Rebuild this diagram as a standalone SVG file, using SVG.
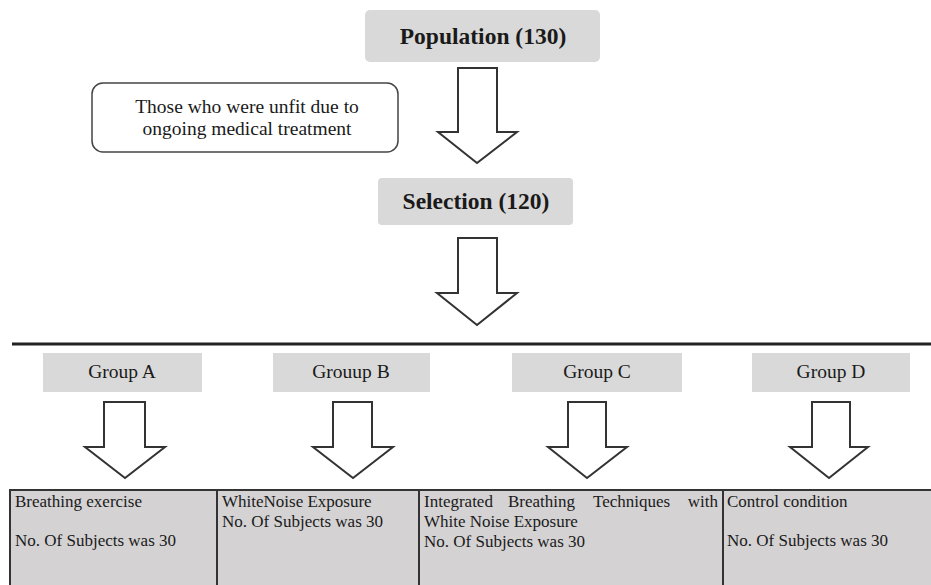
<svg xmlns="http://www.w3.org/2000/svg" width="931" height="585" viewBox="0 0 931 585">
<style>
text{font-family:"Liberation Serif","Times New Roman",serif;fill:#1a1a1a}
.hd{font-size:23.5px;font-weight:bold;text-anchor:middle}
.gb{fill:#d9d9d9}
.gt{font-size:19.5px;text-anchor:middle}
.arr{fill:#fff;stroke:#333;stroke-width:2;stroke-linejoin:miter}
.cell{fill:#d4d2d3;stroke:#333;stroke-width:2}
.ct{font-size:17px}
</style>
<rect width="931" height="585" fill="#fff"/>
<g id="population">
<rect x="365" y="10" width="235" height="52" rx="5" class="gb"/>
<text x="483" y="44" class="hd">Population (130)</text>
</g>
<g id="excluded">
<rect x="92" y="83" width="306" height="69" rx="11" fill="#fff" stroke="#444" stroke-width="1.5"/>
<text x="247" y="113" class="gt">Those who were unfit due to</text>
<text x="247" y="135" class="gt">ongoing medical treatment</text>
</g>
<g id="selection">
<rect x="378" y="178" width="195" height="47" rx="4" class="gb"/>
<text x="476" y="209" class="hd">Selection (120)</text>
</g>
<g id="groupA"><rect x="43" y="353" width="159" height="39" class="gb"/><text x="122" y="378" class="gt">Group A</text></g>
<g id="groupB"><rect x="273" y="353" width="157" height="39" class="gb"/><text x="351" y="378" class="gt">Grouup B</text></g>
<g id="groupC"><rect x="512" y="353" width="170" height="39" class="gb"/><text x="597" y="378" class="gt">Group C</text></g>
<g id="groupD"><rect x="752" y="353" width="158" height="39" class="gb"/><text x="831" y="378" class="gt">Group D</text></g>
<g id="connectors">
<path class="arr" d="M458 68 H497 V132 H517 L477 163 L438 132 H458 Z"/>
<path class="arr" d="M458 238 H497 V293 H517 L477 325 L437 293 H458 Z"/>
<line x1="12" y1="344" x2="931" y2="344" stroke="#222" stroke-width="3"/>
<path class="arr" d="M104 402 H145 V447 H165 L125 478 L85 447 H104 Z"/>
<path class="arr" d="M333 402 H372 V447 H393 L353 478 L313 447 H333 Z"/>
<path class="arr" d="M568 402 H606 V447 H627 L587 478 L548 447 H568 Z"/>
<path class="arr" d="M812 402 H850 V447 H868 L829 478 L790 447 H812 Z"/>
</g>
<g id="table">
<rect x="10" y="490" width="930" height="100" class="cell"/>
<line x1="217" y1="490" x2="217" y2="585" stroke="#333" stroke-width="2"/>
<line x1="419" y1="490" x2="419" y2="585" stroke="#333" stroke-width="2"/>
<line x1="723" y1="490" x2="723" y2="585" stroke="#333" stroke-width="2"/>
</g>
<g id="cellA">
<text x="15" y="507" class="ct">Breathing exercise</text>
<text x="15" y="546" class="ct">No. Of Subjects was 30</text>
</g>
<g id="cellB">
<text x="222" y="507" class="ct">WhiteNoise Exposure</text>
<text x="222" y="527" class="ct">No. Of Subjects was 30</text>
</g>
<g id="cellC">
<text y="507" class="ct"><tspan x="424">Integrated</tspan><tspan x="508">Breathing</tspan><tspan x="593">Techniques</tspan><tspan x="718" text-anchor="end">with</tspan></text>
<text x="424" y="527" class="ct">White Noise Exposure</text>
<text x="424" y="547" class="ct">No. Of Subjects was 30</text>
</g>
<g id="cellD">
<text x="727" y="507" class="ct">Control condition</text>
<text x="727" y="546" class="ct">No. Of Subjects was 30</text>
</g>
</svg>
